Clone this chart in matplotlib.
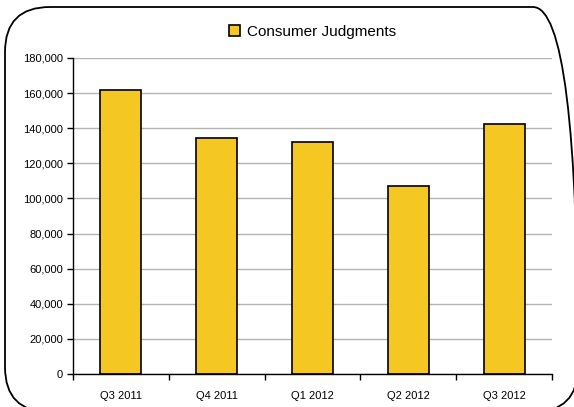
import numpy as np
import matplotlib
matplotlib.use('Agg')
import matplotlib.pyplot as plt
from matplotlib.patches import FancyBboxPatch
from matplotlib.ticker import FuncFormatter

# data
quarters = ['Q3 2011', 'Q4 2011', 'Q1 2012', 'Q2 2012', 'Q3 2012']
judgments = [162000, 134500, 132000, 107000, 142500]

plt.rcParams['font.family'] = ['Liberation Sans', 'DejaVu Sans']

fig = plt.figure(figsize=(5.74, 4.07), dpi=100)
ax = fig.add_axes([0.127, 0.0811, 0.8347, 0.7764])

x = np.arange(len(quarters))
ax.bar(x, judgments, width=0.43, color='#F5C723', edgecolor='black',
       linewidth=1.2, label='Consumer Judgments', zorder=3)

ax.set_xlim(-0.5, len(quarters) - 0.5)
ax.set_ylim(0, 180000)
ax.set_yticks(np.arange(0, 180001, 20000))
ax.yaxis.set_major_formatter(FuncFormatter(lambda v, p: f'{int(v):,}'))
ax.grid(axis='y', color='#b4b4b4', linewidth=1.0, zorder=0)

# category labels without marks, marks between categories
ax.set_xticks(x)
ax.set_xticklabels(quarters)
ax.tick_params(axis='x', which='major', length=0, pad=12, labelsize=8)
ax.set_xticks(np.arange(-0.5, len(quarters), 1.0), minor=True)
ax.tick_params(axis='x', which='minor', length=4, width=1, direction='out')
ax.tick_params(axis='y', length=4, width=1, direction='out', labelsize=8, pad=3)

for s in ['top', 'right']:
    ax.spines[s].set_visible(False)
for s in ['left', 'bottom']:
    ax.spines[s].set_linewidth(1.0)
    ax.spines[s].set_zorder(4)

leg = fig.legend(loc='center', bbox_to_anchor=(0.545, 0.922), frameon=False,
                 fontsize=11, handlelength=0.7, handleheight=0.7,
                 handletextpad=0.5)

# rounded frame around the whole chart
frame = FancyBboxPatch((0.05, -0.05), 5.73, 4.05,
                       boxstyle='round,pad=0,rounding_size=0.45',
                       transform=fig.dpi_scale_trans, fill=False,
                       edgecolor='black', linewidth=1.3, clip_on=False)
fig.patches.append(frame)

fig.savefig('out.png', dpi=100)
